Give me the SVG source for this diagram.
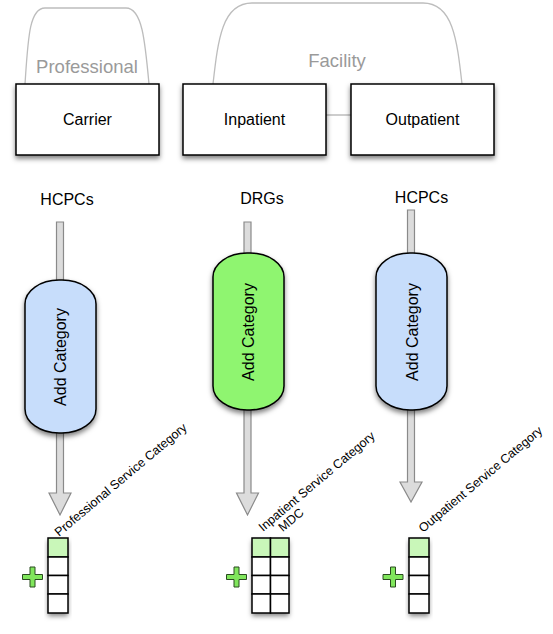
<svg xmlns="http://www.w3.org/2000/svg" width="553" height="634" viewBox="0 0 553 634">
<defs>
<filter id="sh" x="-20%" y="-20%" width="140%" height="150%">
<feDropShadow dx="0" dy="3" stdDeviation="2.5" flood-color="#000" flood-opacity="0.5"/>
</filter>
<style>
text{font-family:"Liberation Sans",Arial,sans-serif;fill:#000}
.tab{fill:none;stroke:#bdbdbd;stroke-width:1.3}
.tabt{font-size:18.5px;fill:#9a9a9a;text-anchor:middle}
.box{fill:#fff;stroke:#000;stroke-width:1.5}
.bt{font-size:16px;text-anchor:middle}
.lbl{font-size:16px;text-anchor:middle}
.arr{fill:#dcdcdc;stroke:#8a8a8a;stroke-width:1.2}
.cap{stroke:#000;stroke-width:1.5}
.blue{fill:#c7ddfb}
.green{fill:#8ff570}
.rt{font-size:12.5px}
.cell{fill:#fff;stroke:#000;stroke-width:1.5}
.hd{fill:#c9f7b9;stroke:#000;stroke-width:1.5}
.plus{fill:#80e65c;stroke:#2a4a20;stroke-width:1}
</style>
</defs>

<g id="professional-group">
<path class="tab" d="M25,84 C28,40 29,8 45,8 L126,8 C142,8 145,40 149,84"/>
<text class="tabt" x="87" y="73">Professional</text>
</g>
<g id="facility-group">
<path class="tab" d="M213,84 C218,40 222,3 252,3 L423,3 C453,3 457,40 462,84"/>
<text class="tabt" x="337" y="67">Facility</text>
</g>

<g id="connectors">
<line x1="326" y1="115" x2="351" y2="115" stroke="#bdbdbd" stroke-width="1.5"/>
<path class="arr" d="M56.5,222 L63.5,222 L63.5,493 L71,493 L60,515 L49,493 L56.5,493 Z"/>
<path class="arr" d="M244,222 L251,222 L251,493 L258.5,493 L247.5,515 L236.5,493 L244,493 Z"/>
<path class="arr" d="M407.5,210 L414.5,210 L414.5,482 L422,482 L411,502 L400,482 L407.5,482 Z"/>
</g>

<g id="carrier"><rect class="box" x="16" y="84" width="143" height="71" filter="url(#sh)"/><text class="bt" x="87.5" y="125">Carrier</text></g>
<g id="inpatient"><rect class="box" x="183" y="84" width="143" height="71" filter="url(#sh)"/><text class="bt" x="254.5" y="125">Inpatient</text></g>
<g id="outpatient"><rect class="box" x="351" y="84" width="143" height="71" filter="url(#sh)"/><text class="bt" x="422.5" y="125">Outpatient</text></g>

<g id="label-hcpcs-1"><text class="lbl" x="67" y="205">HCPCs</text></g>
<g id="label-drgs"><text class="lbl" x="262" y="204">DRGs</text></g>
<g id="label-hcpcs-2"><text class="lbl" x="421.5" y="203">HCPCs</text></g>

<g id="add-category-1"><rect class="cap blue" x="25" y="280" width="71" height="153" rx="34" ry="24" filter="url(#sh)"/><text class="lbl" transform="translate(66,357) rotate(-90)">Add Category</text></g>
<g id="add-category-2"><rect class="cap green" x="213" y="253" width="71" height="157" rx="34" ry="24" filter="url(#sh)"/><text class="lbl" transform="translate(254,332) rotate(-90)">Add Category</text></g>
<g id="add-category-3"><rect class="cap blue" x="376" y="253" width="71" height="157" rx="34" ry="24" filter="url(#sh)"/><text class="lbl" transform="translate(418,332) rotate(-90)">Add Category</text></g>

<g id="table-professional">
<rect x="48" y="538" width="20" height="75" fill="#fff" filter="url(#sh)"/>
<rect class="hd" x="48" y="538" width="20" height="19"/>
<rect class="cell" x="48" y="557" width="20" height="18.5"/>
<rect class="cell" x="48" y="575.5" width="20" height="18.5"/>
<rect class="cell" x="48" y="594" width="20" height="19"/>
<path class="plus" d="M30,567 h5 v7.5 h7.5 v5 h-7.5 v7.5 h-5 v-7.5 h-7.5 v-5 h7.5 Z"/>
<text class="rt" transform="translate(59,537) rotate(-40)">Professional Service Category</text>
</g>

<g id="table-inpatient">
<rect x="252" y="538" width="37" height="75" fill="#fff" filter="url(#sh)"/>
<rect class="hd" x="252" y="538" width="18.5" height="19"/>
<rect class="hd" x="270.5" y="538" width="18.5" height="19"/>
<rect class="cell" x="252" y="557" width="18.5" height="18.5"/>
<rect class="cell" x="270.5" y="557" width="18.5" height="18.5"/>
<rect class="cell" x="252" y="575.5" width="18.5" height="18.5"/>
<rect class="cell" x="270.5" y="575.5" width="18.5" height="18.5"/>
<rect class="cell" x="252" y="594" width="18.5" height="19"/>
<rect class="cell" x="270.5" y="594" width="18.5" height="19"/>
<path class="plus" d="M234,567 h5 v7.5 h7.5 v5 h-7.5 v7.5 h-5 v-7.5 h-7.5 v-5 h7.5 Z"/>
<g transform="translate(263,532) rotate(-40)">
<text class="rt" x="0" y="0">Inpatient Service Category</text>
<text class="rt" x="15" y="13">MDC</text>
</g>
</g>

<g id="table-outpatient">
<rect x="409" y="538" width="20" height="75" fill="#fff" filter="url(#sh)"/>
<rect class="hd" x="409" y="538" width="20" height="19"/>
<rect class="cell" x="409" y="557" width="20" height="18.5"/>
<rect class="cell" x="409" y="575.5" width="20" height="18.5"/>
<rect class="cell" x="409" y="594" width="20" height="19"/>
<path class="plus" d="M390.5,567 h5 v7.5 h7.5 v5 h-7.5 v7.5 h-5 v-7.5 h-7.5 v-5 h7.5 Z"/>
<text class="rt" transform="translate(423,533) rotate(-40)">Outpatient Service Category</text>
</g>
</svg>
